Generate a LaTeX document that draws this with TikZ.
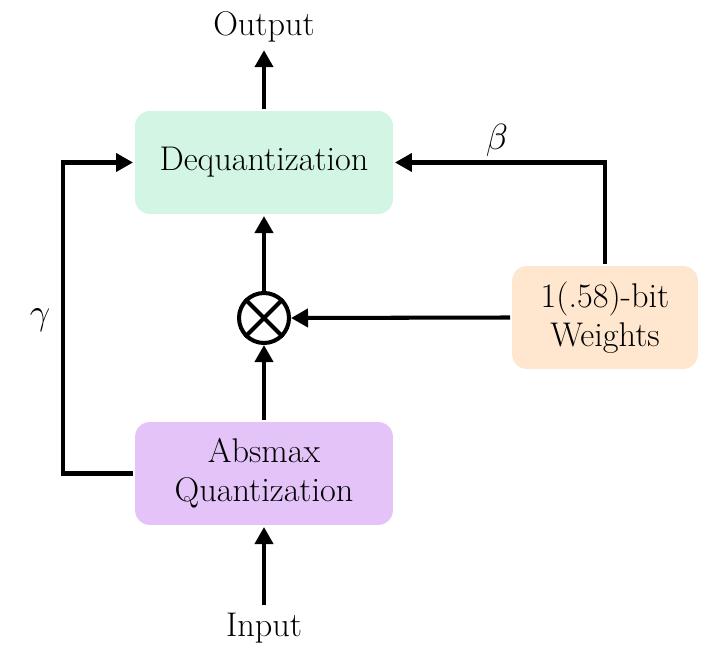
\documentclass[tikz,border=0pt]{standalone}
\usepackage{tikz}
\usetikzlibrary{arrows.meta,positioning}
\definecolor{deqgreen}{HTML}{D3F5E3}
\definecolor{quantpurple}{HTML}{E4C3F8}
\definecolor{weightpeach}{HTML}{FEE6CF}
\tikzset
{
    block/.style   = {rectangle, rounded corners=0.3cm, align=center, minimum width=5.16cm, minimum height=2.06cm, font=\fontsize{19.5}{22}\selectfont},
    smallblock/.style = {block, minimum width=3.72cm},
    mulnode/.style = {circle, draw=black, line width=2.3pt, minimum size=1.0cm, inner sep=0pt},
    label/.style   = {font=\fontsize{19.5}{22}\selectfont}
}

\begin{document}
\begin{tikzpicture}[x=0.02cm, y=-0.02cm, line width=2.3pt, >={Triangle[length=0.34cm, width=0.36cm]}]
    \useasboundingbox (0,0) rectangle (710,658);
    \node [block, fill=deqgreen] (deq) at (264,162.5) {Dequantization};
    \node [block, fill=quantpurple] (absq) at (264,473.5) {Absmax \\ Quantization};
    \node [smallblock, fill=weightpeach] (wts) at (605,317.5) {1(.58)-bit \\ Weights};
    \node [mulnode] (mult) at (264,318) {};
    \draw (mult.north west) -- (mult.south east);
    \draw (mult.north east) -- (mult.south west);
    \node [label] (out) at (264,27) {Output};
    \node [label] (in) at (264,628) {Input};
    \node [label] (gamma) at (40,320) {$\gamma$};
    \node [label] (beta) at (497,140) {$\beta$};

    \draw [->] (deq.north) -- (out.south);
    \draw [->] (in.north) -- (absq.south);
    \draw [->] (absq.north) -- (mult.south);
    \draw [->] (mult.north) -- (deq.south);
    \draw [->] (wts.west) -- (mult.east);
    \draw [->] (wts.north) |- (deq.east);
    \draw [->] (absq.west) -- ++(-70,0) |- (deq.west);
\end{tikzpicture}
\end{document}
